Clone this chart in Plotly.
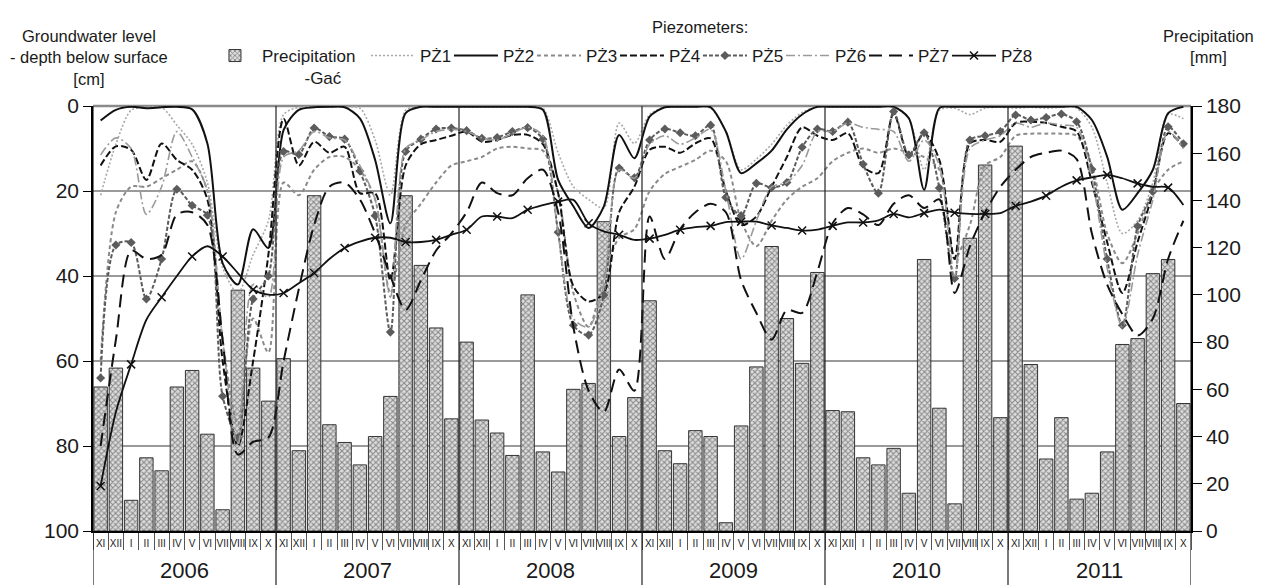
import plotly.graph_objects as go

months = ["XI", "XII", "I", "II", "III", "IV", "V", "VI", "VII", "VIII", "IX", "X"]
years = ["2006", "2007", "2008", "2009", "2010", "2011"]
month_labels = months * len(years)
x = list(range(len(month_labels)))

precip = [61, 69, 13, 31, 25.5, 61, 68, 41, 9, 102, 69, 55,
          73, 34, 142, 45, 37.5, 28, 40, 57, 142, 112.5, 86, 47.5,
          80, 47, 41.5, 32, 100, 33.5, 25, 60, 62.5, 131, 40, 56.5,
          97.5, 34, 28.5, 42.5, 40, 3.5, 44.5, 69.5, 120.5, 90, 71, 109.5,
          51, 50.5, 31, 28, 35, 16, 115, 52, 11.5, 124, 155, 48,
          163, 70.5, 30.5, 48, 13.5, 16, 33.5, 79, 81.5, 109, 115, 54]

pz1 = [21, 9, 1, 0.3, 0.3, 4.5, 9, 18, 38, 44, 35, 27,
       2, 0.3, 0.2, 0.2, 0.3, 0.5, 8, 21, 1, 0.2, 0.2, 0.2,
       0.2, 0.2, 0.2, 0.2, 0.3, 0.5, 11, 19, 22, 24, 4, 8.8,
       2, 0.3, 0.2, 0.2, 0.5, 6, 15, 12.5, 9, 4.5, 1.5, 0.3,
       0.2, 0.2, 0.2, 0.2, 0.2, 3, 15, 1, 0.5, 2, 0.5, 0.3,
       0.5, 0.3, 0.5, 0.3, 0.5, 5, 18, 30, 27, 18, 2, 3]

pz2 = [3.4, 0.9, 0.2, 0.5, 0.3, 0.2, 0.8, 8.8, 37, 42, 29, 33.4,
       5.6, 0.9, 0.3, 0.2, 0.3, 2.9, 12.7, 27.6, 1.7, 0.2, 0.2, 0.2,
       0.2, 0.2, 0.2, 0.2, 0.2, 0.9, 17.4, 23.6, 28.7, 23.6, 6.8, 12.3,
       2.5, 0.3, 0.2, 0.2, 0.3, 6, 15.8, 13.5, 10.5, 5.5, 2, 0.2,
       0.2, 0.2, 0.2, 0.2, 0.2, 2.9, 19.7, 0.5, 0.2, 0.2, 0.2, 0.2,
       0.2, 0.2, 0.2, 0.2, 0.2, 3.3, 11.9, 24.4, 20.5, 15, 1.7, 0.2]

pz3 = [60, 25, 19, 19, 17, 15, 13, 20, 55, 75, 50, 58,
       18, 21, 15, 12, 12, 15, 22, 44, 28, 23, 18, 14,
       13, 12, 10, 9.6, 10, 10.5, 20.5, 44, 52, 40, 31, 29,
       20, 16, 14.3, 12.7, 10.5, 13, 27, 33, 27, 22, 19, 17,
       13, 11, 10, 11, 10, 11, 12, 15, 36, 28, 14, 12,
       7, 6.5, 6.5, 6.5, 7, 14, 30, 37, 30, 20, 15, 13]

pz4 = [14, 9.5, 10.3, 17.4, 8.8, 12.7, 15, 22, 60, 80, 60, 35,
       3, 14, 8.4, 11, 9.6, 20.5, 20.5, 41, 14, 9, 8, 7,
       6, 8.4, 8, 6.8, 6.8, 9, 20.5, 42.4, 46, 44, 25, 19,
       10.3, 9.6, 11, 8.8, 7.6, 20, 28, 26, 19, 12, 5, 7,
       8, 6.4, 14.3, 15.8, 1.7, 11.9, 6.4, 12.7, 36, 8.8, 8, 8.4,
       4, 3.7, 4, 4.9, 6, 18, 32, 44, 32, 20.5, 6.4, 9.6]

pz5 = [64, 32.7, 32.1, 45.4, 36, 19.6, 23.4, 25.7, 68.3, 78, 45.4, 40,
       10.7, 11.4, 5.2, 7.2, 7.8, 15.3, 25.8, 53.2, 10.7, 7.8, 5.4, 5.2,
       5.8, 7.6, 7.4, 6, 5.1, 7.8, 29.7, 51.6, 53.9, 44.5, 14.6, 16.9,
       8, 5.4, 6.3, 7, 4.5, 21.5, 25.8, 18.2, 19.2, 18, 9.7, 5.4,
       6, 3.8, 13.7, 20.5, 1.3, 11.5, 6.3, 19.3, 40.6, 8, 7, 6,
       2.1, 3.3, 2.7, 1.9, 3.7, 14.9, 36, 51.6, 28.3, 20.1, 4.9, 8.9]

pz6 = [11.5, 7.5, 10, 25.5, 19, 6, 12, 20, 55, 80, 42, 45,
       12, 10.5, 6, 7.5, 8, 14, 22, 45, 10, 8, 6, 5.5,
       6, 7.5, 8, 6.5, 5, 7, 30, 50, 52, 42, 15, 17,
       9, 7, 9, 7.5, 5.5, 20, 36, 27, 19, 18, 14, 6,
       6, 4, 5, 5.5, 6, 13, 8, 14, 40, 10, 8, 7,
       4, 5, 4, 4.5, 5, 17, 38, 52, 35, 22, 6, 10]

pz7 = [80, 55, 34, 36, 35, 25.5, 25, 28, 55, 82, 79, 78,
       60, 43, 28, 19, 18, 22, 30, 40, 48, 41, 34, 30,
       25, 18, 20.5, 21, 17, 15, 25, 52, 67, 72, 62, 67,
       26, 36, 29, 25, 23, 25, 41, 48.7, 55, 48, 48.7, 39,
       27.6, 24, 25.5, 28, 23, 21, 24, 22, 44, 33, 25, 19,
       15, 12, 11, 10.5, 12.5, 30, 42, 49, 54, 50, 36, 27]

pz8 = [89.4, 72, 60.8, 50.3, 45, 40, 35.4, 33, 35.4, 39.3, 43.2, 44.4,
       44, 41.7, 39.3, 36, 33.4, 31.9, 31, 31, 32, 32, 31.5, 30.3,
       29.1, 26, 26, 26.4, 24.4, 23.3, 22.5, 22.1, 27.6, 29.5, 30.3, 31.5,
       31.2, 30.3, 29.1, 28.5, 28.2, 27.3, 27.2, 27.2, 28.1, 28.7, 29.3, 29.1,
       28.2, 27.4, 27.4, 26.9, 25.4, 26.2, 25.2, 24.4, 25.1, 25.4, 25.4, 25.2,
       23.5, 22.5, 21.1, 19, 17.5, 16.8, 16.2, 17, 18.2, 19, 19.2, 23.3]

FONT = "Liberation Sans, Arial, sans-serif"
LEG_W = 24      # legend text slot for the piezometer entries
ITEM_W = 44     # legend symbol width

fig = go.Figure()

# base axis (groundwater scale, carries the grid)
fig.add_trace(go.Scatter(x=[None], y=[None], yaxis="y", showlegend=False, hoverinfo="skip"))

fig.add_trace(go.Bar(
    x=x, y=precip, yaxis="y2",
    name="Precipitation<br>\u00a0\u00a0\u00a0\u00a0\u00a0\u00a0\u00a0\u00a0\u00a0-Gać",
    legendwidth=99,
    marker=dict(color="#dcdcdc", line=dict(color="#333333", width=1),
                pattern=dict(shape="x", fgcolor="#333333", bgcolor="#dedede",
                             size=4, solidity=0.48)),
))

series = [
    ("PŻ1", pz1, dict(color="#a8a8a8", width=1.6, dash="2px,2px"), None),
    ("PŻ2", pz2, dict(color="#111111", width=2), None),
    ("PŻ3", pz3, dict(color="#8a8a8a", width=2, dash="4px,3px"), None),
    ("PŻ4", pz4, dict(color="#111111", width=2, dash="7px,3px"), None),
    ("PŻ5", pz5, dict(color="#5c5c5c", width=2, dash="4px,2px"),
     dict(symbol="diamond", size=7, color="#5c5c5c")),
    ("PŻ6", pz6, dict(color="#9a9a9a", width=1.6, dash="9px,3px,2px,3px"), None),
    ("PŻ7", pz7, dict(color="#111111", width=2, dash="13px,7px"), None),
]

for name, vals, line, marker in series:
    fig.add_trace(go.Scatter(
        x=x, y=vals, yaxis="y3", name=name, legendwidth=LEG_W,
        mode="lines+markers" if marker else "lines",
        line=dict(shape="spline", smoothing=0.8, **line),
        marker=marker if marker else None,
    ))

# PŻ8: line, bimonthly markers, and legend entry
pz8_line = dict(color="#111111", width=1.8)
pz8_marker = dict(symbol="x-thin", size=8, line=dict(color="#111111", width=1.5))
fig.add_trace(go.Scatter(x=x, y=pz8, yaxis="y3", mode="lines", showlegend=False,
                         line=dict(shape="spline", smoothing=0.8, **pz8_line)))
fig.add_trace(go.Scatter(x=x[::2], y=pz8[::2], yaxis="y3", mode="markers",
                         showlegend=False, marker=pz8_marker))
fig.add_trace(go.Scatter(x=[None], y=[None], yaxis="y3", mode="lines+markers",
                         name="PŻ8", legendwidth=42, line=pz8_line, marker=pz8_marker))

shapes = []
# top border line (0 cm)
shapes.append(dict(type="line", xref="paper", yref="paper", x0=0, x1=1, y0=1, y1=1,
                   line=dict(color="#8a8a8a", width=2.5), layer="below"))
# year separators, extended down through the label rows
for k in range(len(years) + 1):
    xb = 12 * k - 0.5
    shapes.append(dict(type="line", xref="x", yref="paper", x0=xb, x1=xb,
                       y0=-0.13, y1=1, line=dict(color="#222222", width=1.2)))

annotations = []
for k, yr in enumerate(years):
    annotations.append(dict(x=12 * k + 5.5, xref="x", y=-0.092, yref="paper",
                            text=yr, showarrow=False, font=dict(size=22),
                            xanchor="center", yanchor="middle"))
annotations.append(dict(x=-0.004, xref="paper", y=1.115, yref="paper",
                        text="Groundwater level<br>- depth below surface<br>[cm]",
                        showarrow=False, font=dict(size=16.5), xanchor="center",
                        yanchor="middle", align="center"))
annotations.append(dict(x=0.553, xref="paper", y=1.185, yref="paper",
                        text="Piezometers:", showarrow=False, font=dict(size=16.5),
                        xanchor="center", yanchor="middle"))
annotations.append(dict(x=1.0592, xref="paper", y=1.14, yref="paper",
                        text="Precipitation<br>[mm]", showarrow=False,
                        font=dict(size=16.5), xanchor="right", yanchor="middle",
                        align="center"))

fig.update_layout(
    width=1262, height=585,
    margin=dict(l=93, r=71, t=106, b=54, autoexpand=False),
    paper_bgcolor="white", plot_bgcolor="white",
    font=dict(family=FONT, color="#1a1a1a"),
    bargap=0.12,
    showlegend=True,
    legend=dict(orientation="h", x=0.1047, xanchor="left", y=1.16, yanchor="top",
                font=dict(size=17), itemwidth=ITEM_W, valign="top",
                bgcolor="rgba(0,0,0,0)", traceorder="normal"),
    xaxis=dict(range=[-0.5, 71.5], tickmode="array", tickvals=x, ticktext=month_labels,
               ticks="", tickangle=0, tickfont=dict(size=10), showgrid=False,
               zeroline=False, showline=True, linecolor="black", linewidth=1.5,
               automargin=False, ticklabelstandoff=2,
               minor=dict(ticks="outside", ticklen=17, tickcolor="#555555", tickwidth=1,
                          tick0=-0.5, dtick=1, showgrid=False)),
    yaxis=dict(range=[100, 0], tickvals=[0, 20, 40, 60, 80, 100], showgrid=True,
               gridcolor="#9a9a9a", gridwidth=1.5, zeroline=False, showline=True,
               linecolor="black", linewidth=1.5, ticks="outside", ticklen=8,
               tickcolor="black", tickfont=dict(size=21), automargin=False),
    yaxis2=dict(range=[0, 180], overlaying="y", side="right",
                tickvals=list(range(0, 181, 20)), showgrid=False, zeroline=False,
                showline=True, linecolor="black", linewidth=1.5, ticks="outside",
                ticklen=9, tickcolor="black", tickfont=dict(size=21), automargin=False),
    yaxis3=dict(range=[100, 0], overlaying="y", visible=False),
    shapes=shapes,
    annotations=annotations,
)

fig.write_html("out.html", config={"displayModeBar": False},
               post_script="document.body.style.margin='0px';document.body.style.padding='0px';")
